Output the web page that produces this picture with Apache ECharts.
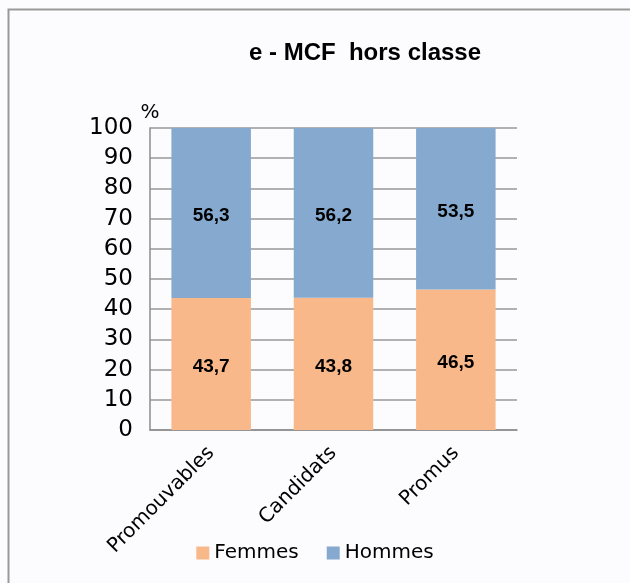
<!DOCTYPE html>
<html>
<head>
<meta charset="utf-8">
<script src="https://cdn.jsdelivr.net/npm/echarts@6/dist/echarts.min.js"></script>
<style>
  html, body { margin: 0; padding: 0; background: #fcfcfe; }
  #chart { width: 630px; height: 583px; }
</style>
</head>
<body>
<div id="chart"></div>
<script>
// données
var categories = ['Promouvables', 'Candidats', 'Promus'];
var femmes = [43.7, 43.8, 46.5];
var hommes = [56.3, 56.2, 53.5];
var yTicks = [0, 10, 20, 30, 40, 50, 60, 70, 80, 90, 100];

var myChart = echarts.init(document.getElementById('chart'));

var labelFmt = function (p) {
  return String(p.value).replace('.', ',');
};

var option = {
  backgroundColor: '#fcfcfe',
  animation: false,
  title: {
    text: 'e - MCF  hors classe',
    left: 360,
    top: 36,
    textAlign: 'center',
    textStyle: {
      fontFamily: 'Liberation Sans',
      fontWeight: 'bold',
      fontSize: 24,
      color: '#000'
    }
  },
  // cadre : seulement les bords gauche et haut sont visibles
  graphic: [{
    type: 'polyline',
    shape: { points: [[8.5, 600], [8.5, 9.5], [640, 9.5]] },
    style: { fill: 'none', stroke: '#999', lineWidth: 2 },
    silent: true
  }],
  legend: {
    bottom: 15,
    left: 'center',
    itemWidth: 13,
    itemHeight: 13,
    itemGap: 28,
    icon: 'rect',
    textStyle: { fontFamily: 'DejaVu Sans', fontSize: 20, color: '#000' },
    data: ['Femmes', 'Hommes']
  },
  grid: { left: 150, right: 113, top: 128, bottom: 153 },
  xAxis: {
    type: 'category',
    data: categories,
    axisLine: { lineStyle: { color: '#8c8c8c', width: 1.5 } },
    axisTick: { show: false },
    axisLabel: {
      rotate: 45,
      margin: 20,
      fontFamily: 'DejaVu Sans',
      fontSize: 20,
      color: '#000'
    }
  },
  yAxis: {
    type: 'value',
    min: yTicks[0],
    max: yTicks[yTicks.length - 1],
    interval: 10,
    name: '%',
    nameLocation: 'end',
    nameGap: 5,
    nameTextStyle: { fontFamily: 'DejaVu Sans', fontSize: 20, color: '#000', align: 'center' },
    axisLine: { show: true, lineStyle: { color: '#8c8c8c', width: 1.5 } },
    axisTick: { show: false },
    splitLine: { lineStyle: { color: '#999', width: 1.5 } },
    axisLabel: {
      margin: 17,
      fontFamily: 'DejaVu Sans',
      fontSize: 23,
      color: '#000'
    }
  },
  series: [
    {
      name: 'Femmes',
      type: 'bar',
      stack: 'total',
      barWidth: '65%',
      data: femmes,
      itemStyle: { color: '#f8b88a' },
      label: {
        show: true,
        position: 'inside',
        offset: [0, 3],
        formatter: labelFmt,
        fontFamily: 'Liberation Sans',
        fontWeight: 'bold',
        fontSize: 19,
        color: '#000'
      }
    },
    {
      name: 'Hommes',
      type: 'bar',
      stack: 'total',
      data: hommes,
      itemStyle: { color: '#86a9cf' },
      label: {
        show: true,
        position: 'inside',
        offset: [0, 3],
        formatter: labelFmt,
        fontFamily: 'Liberation Sans',
        fontWeight: 'bold',
        fontSize: 19,
        color: '#000'
      }
    }
  ]
};

myChart.setOption(option);
</script>
</body>
</html>
